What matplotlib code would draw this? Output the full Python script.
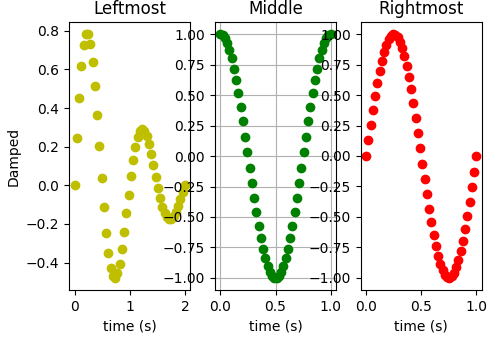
import matplotlib
matplotlib.use("Agg")
import matplotlib.pyplot as plt

# time samples, 50 points each
t_short = [0.0, 0.0204, 0.0408, 0.0612, 0.0816, 0.1020, 0.1224, 0.1429, 0.1633, 0.1837,
           0.2041, 0.2245, 0.2449, 0.2653, 0.2857, 0.3061, 0.3265, 0.3469, 0.3673, 0.3878,
           0.4082, 0.4286, 0.4490, 0.4694, 0.4898, 0.5102, 0.5306, 0.5510, 0.5714, 0.5918,
           0.6122, 0.6327, 0.6531, 0.6735, 0.6939, 0.7143, 0.7347, 0.7551, 0.7755, 0.7959,
           0.8163, 0.8367, 0.8571, 0.8776, 0.8980, 0.9184, 0.9388, 0.9592, 0.9796, 1.0]
t_long = [0.0, 0.0408, 0.0816, 0.1224, 0.1633, 0.2041, 0.2449, 0.2857, 0.3265, 0.3673,
          0.4082, 0.4490, 0.4898, 0.5306, 0.5714, 0.6122, 0.6531, 0.6939, 0.7347, 0.7755,
          0.8163, 0.8571, 0.8980, 0.9388, 0.9796, 1.0204, 1.0612, 1.1020, 1.1429, 1.1837,
          1.2245, 1.2653, 1.3061, 1.3469, 1.3878, 1.4286, 1.4694, 1.5102, 1.5510, 1.5918,
          1.6327, 1.6735, 1.7143, 1.7551, 1.7959, 1.8367, 1.8776, 1.9184, 1.9592, 2.0]

damped = [0.0, 0.244, 0.452, 0.616, 0.727, 0.782, 0.782, 0.733, 0.640, 0.513,
          0.363, 0.201, 0.039, -0.112, -0.245, -0.351, -0.427, -0.469, -0.478, -0.455,
          -0.405, -0.332, -0.243, -0.145, -0.048, 0.046, 0.130, 0.199, 0.249, 0.280,
          0.290, 0.281, 0.254, 0.213, 0.162, 0.104, 0.044, -0.014, -0.067, -0.111,
          -0.145, -0.166, -0.176, -0.173, -0.159, -0.136, -0.107, -0.072, -0.036, 0.0]

middle = [1.0, 0.992, 0.967, 0.927, 0.871, 0.801, 0.718, 0.624, 0.518, 0.405,
          0.285, 0.160, 0.032, -0.096, -0.223, -0.346, -0.463, -0.572, -0.672, -0.761,
          -0.838, -0.901, -0.949, -0.982, -0.998, -0.998, -0.982, -0.949, -0.901, -0.838,
          -0.761, -0.672, -0.572, -0.463, -0.346, -0.223, -0.096, 0.032, 0.160, 0.285,
          0.405, 0.518, 0.624, 0.718, 0.801, 0.871, 0.927, 0.967, 0.992, 1.0]

rightmost = [0.0, 0.128, 0.254, 0.375, 0.491, 0.598, 0.696, 0.782, 0.856, 0.915,
             0.959, 0.987, 1.0, 0.995, 0.975, 0.938, 0.887, 0.820, 0.741, 0.649,
             0.546, 0.434, 0.315, 0.191, 0.064, -0.064, -0.191, -0.315, -0.434, -0.546,
             -0.649, -0.741, -0.820, -0.887, -0.938, -0.975, -0.995, -1.0, -0.987, -0.959,
             -0.915, -0.856, -0.782, -0.696, -0.598, -0.491, -0.375, -0.254, -0.128, 0.0]

short_ticks = [0.0, 0.5, 1.0]

fig, (ax1, ax2, ax3) = plt.subplots(1, 3, figsize=(5.0, 3.39), dpi=100)
fig.subplots_adjust(left=0.138, right=0.964, bottom=0.145, top=0.935, wspace=0.2)

ax1.plot(t_long, damped, "yo")
ax1.set_title("Leftmost")
ax1.set_ylabel("Damped")
ax1.set_xlabel("time (s)")
ax1.set_xticks([0, 1, 2])

ax2.plot(t_short, middle, "go")
ax2.set_title("Middle")
ax2.set_xlabel("time (s)")
ax2.set_xticks(short_ticks)
ax2.grid(True)

ax3.plot(t_short, rightmost, "ro")
ax3.set_title("Rightmost")
ax3.set_xlabel("time (s)")
ax3.set_xticks(short_ticks)

fig.savefig("out.png", dpi=100)
